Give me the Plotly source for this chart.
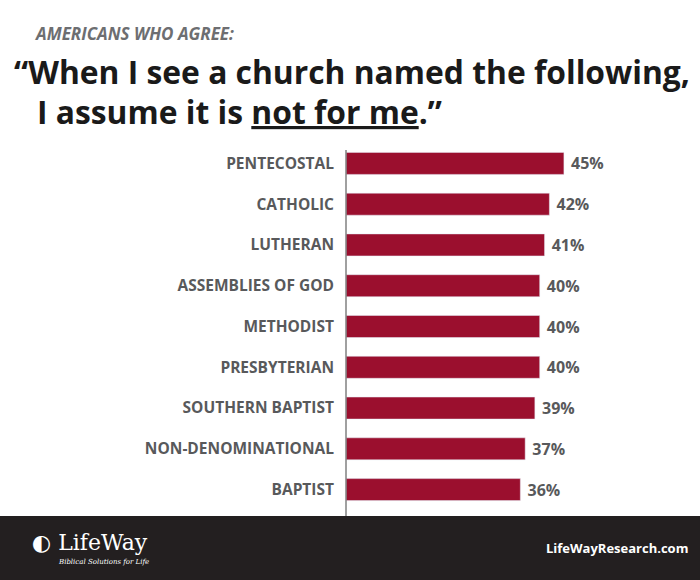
import plotly.graph_objects as go

categories = ["PENTECOSTAL", "CATHOLIC", "LUTHERAN", "ASSEMBLIES OF GOD", "METHODIST",
              "PRESBYTERIAN", "SOUTHERN BAPTIST", "NON-DENOMINATIONAL", "BAPTIST"]
values = [45, 42, 41, 40, 40, 40, 39, 37, 36]
labels = [f" {v}%" for v in values]

W, H = 700, 580
L, R, T, B = 346, 0, 143, 70
ph = H - T - B
def py(y):  # pixel y -> paper
    return (H - B - y) / ph
def px(x):
    return (x - L) / (W - L - R)

gray = "#58595b"
fig = go.Figure(go.Bar(
    x=values, y=categories, orientation="h", marker_color="#9b0f2e",
    width=0.54, text=labels, textposition="outside", cliponaxis=False,
    textfont=dict(family="Open Sans", size=16, color=gray, weight="bold"),
))
fig.update_layout(
    width=W, height=H, margin=dict(l=L, r=R, t=T, b=B),
    paper_bgcolor="white", plot_bgcolor="white", showlegend=False,
    xaxis=dict(range=[0, 73.1], visible=False, fixedrange=True),
    yaxis=dict(autorange="reversed", showgrid=False, zeroline=False,
               ticks="", ticklabelstandoff=11,
               tickfont=dict(family="Open Sans", size=15.5, color=gray, weight="bold")),
    bargap=0.46,
)
fig.add_shape(type="line", xref="paper", yref="paper", x0=0, x1=0,
              y0=py(150), y1=py(516), line=dict(color="#808080", width=1.5))
fig.add_shape(type="rect", xref="paper", yref="paper", x0=px(0), x1=px(W),
              y0=py(516), y1=py(H), fillcolor="#231f20", line_width=0, layer="below")
fig.add_annotation(xref="paper", yref="paper", x=px(32), y=py(33), xanchor="left",
                   yanchor="middle", showarrow=False,
                   text="<b><i>AMERICANS WHO AGREE:</i></b>",
                   font=dict(family="Open Sans", size=17, color="#6d6e71"))
fig.add_annotation(xref="paper", yref="paper", x=px(12), y=py(72), xanchor="left",
                   yanchor="middle", showarrow=False,
                   text="<b>“When I see a church named the following,</b>",
                   font=dict(family="Open Sans", size=31.8, color="#1a1a1a"))
fig.add_annotation(xref="paper", yref="paper", x=px(35), y=py(112), xanchor="left",
                   yanchor="middle", showarrow=False,
                   text="<b>I assume it is <u>not for me</u>.”</b>",
                   font=dict(family="Open Sans", size=31.8, color="#1a1a1a"))
fig.add_annotation(xref="paper", yref="paper", x=px(30), y=py(542), xanchor="left",
                   yanchor="middle", showarrow=False,
                   text="◐ LifeWay",
                   font=dict(family="DejaVu Serif", size=22, color="white"))
fig.add_annotation(xref="paper", yref="paper", x=px(56), y=py(562), xanchor="left",
                   yanchor="middle", showarrow=False,
                   text="<i>Biblical Solutions for Life</i>",
                   font=dict(family="DejaVu Serif", size=7, color="white"))
fig.add_annotation(xref="paper", yref="paper", x=px(690), y=py(548), xanchor="right",
                   yanchor="middle", showarrow=False,
                   text="<b>LifeWayResearch.com</b>",
                   font=dict(family="Open Sans", size=13, color="white"))
fig.write_html("out.html", config={"displayModeBar": False})
with open("out.html") as f:
    html = f.read()
html = html.replace("<body>", '<body style="margin:0;overflow:hidden">', 1)
with open("out.html", "w") as f:
    f.write(html)
